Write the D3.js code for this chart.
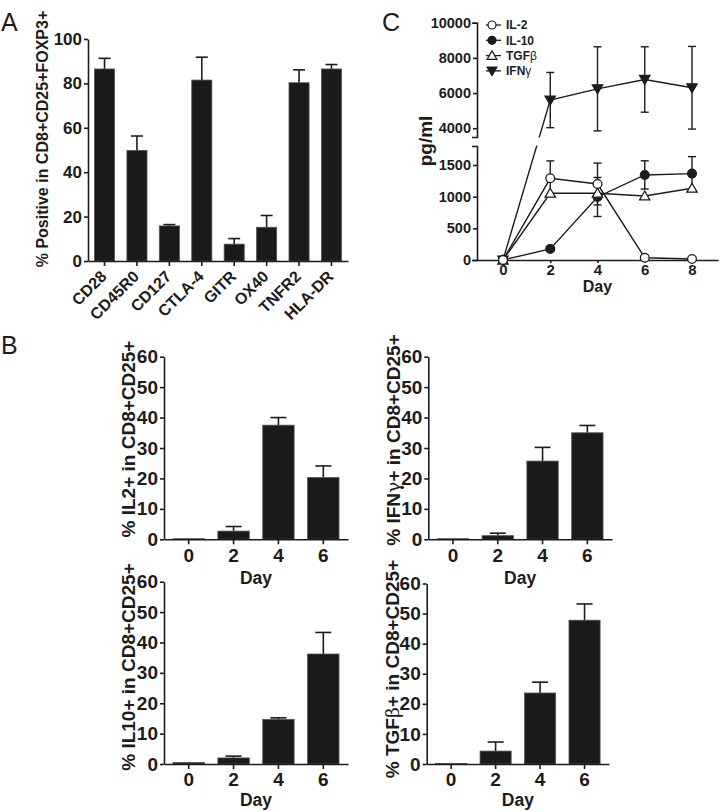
<!DOCTYPE html>
<html><head><meta charset="utf-8">
<script src="https://cdn.jsdelivr.net/npm/d3@7"></script>
<style>body{margin:0;background:#fff}svg{display:block}</style>
</head><body><svg id="fig" width="725" height="812"></svg>
<script>
// ---------- DATA ----------
const markersA = ["CD28","CD45R0","CD127","CTLA-4","GITR","OX40","TNFR2","HLA-DR"];
const meanA = [86.5, 49.8, 15.8, 81.5, 7.6, 15.2, 80.3, 86.5];
const errA  = [4.8, 6.5, 0.6, 10.3, 2.5, 5.3, 5.8, 2.0];
const ticksA = [0,20,40,60,80,100];

const daysB = ["0","2","4","6"];
const il2B  = [0.2, 2.7, 37.5, 20.3]; const il2BErr  = [0, 1.5, 2.5, 3.8];
const ifngB = [0.2, 1.2, 25.7, 35.0]; const ifngBErr = [0, 0.8, 4.5, 2.4];
const il10B = [0.5, 2.0, 14.7, 36.2]; const il10BErr = [0, 0.6, 0.5, 7.1];
const tgfbB = [0.2, 4.3, 23.6, 47.8]; const tgfbBErr = [0, 3.0, 3.6, 5.4];
const ticksB = [0,10,20,30,40,50,60];

const daysC = [0,2,4,6,8];
const il2C  = [0, 1290, 1200, 36, 16];   const il2CErr  = [0, 275, 330, 0, 0];
const il10C = [0, 175, 995, 1343, 1364]; const il10CErr = [0, 0, 308, 223, 268];
const tgfbC = [0, 1054, 1054, 1011, 1133]; const tgfbCErr = [0, 0, 0, 0, 0];
const ifngC = [0, 5600, 6240, 6770, 6300]; const ifngCErr = [0, 1570, 2390, 1860, 2350];
const ticksCUpper = [4000,6000,8000,10000];
const ticksCLower = [0,500,1000,1500];
const legendC = ["IL-2","IL-10","TGFβ","IFNγ"];

// ---------- SETUP ----------
const FONT = "'Liberation Sans', Arial, Helvetica, sans-serif";
const INK = "#1c1c1c";
const svg = d3.select("#fig").style("font-family", FONT);
svg.append("rect").attr("width",725).attr("height",812).attr("fill","#fff");

function styleAxis(g, fs) {
  g.select(".domain").attr("stroke", INK).attr("stroke-width", 1.6);
  g.selectAll(".tick line").attr("stroke", INK).attr("stroke-width", 1.6);
  g.selectAll(".tick text").attr("fill", INK).style("font-size", fs + "px")
    .style("font-weight", "bold").style("font-family", FONT);
}
function panelLetter(t, x, y) {
  svg.append("text").attr("x", x).attr("y", y).text(t)
    .style("font-size", "25px").attr("fill", INK);
}
function rotLabel(parts, cx, cy, fs) {
  const t = svg.append("text")
    .attr("transform", `translate(${cx},${cy}) rotate(-90)`)
    .attr("text-anchor", "middle").attr("dy", "0.35em")
    .style("font-size", fs + "px").style("font-weight", "bold").attr("fill", INK);
  parts.forEach(p => {
    const s = t.append("tspan").text(p.t);
    if (p.greek) s.style("font-weight", "normal").style("font-family", "'DejaVu Serif', serif");
  });
}

// ---------- PANEL A ----------
panelLetter("A", 1, 31);
const xA = d3.scaleBand().domain(markersA).range([88, 348]).paddingInner(0.38).paddingOuter(0.2);
const yA = d3.scaleLinear().domain([0, 100]).range([261, 39]);
const gA = svg.append("g");
markersA.forEach((m, i) => {
  const cx = xA(m) + xA.bandwidth() / 2;
  gA.append("line").attr("x1", cx).attr("x2", cx).attr("y1", yA(meanA[i])).attr("y2", yA(meanA[i] + errA[i]))
    .attr("stroke", INK).attr("stroke-width", 1.6);
  gA.append("line").attr("x1", cx - 6).attr("x2", cx + 6).attr("y1", yA(meanA[i] + errA[i])).attr("y2", yA(meanA[i] + errA[i]))
    .attr("stroke", INK).attr("stroke-width", 1.6);
});
gA.selectAll("rect.bar").data(markersA).join("rect").attr("class", "bar")
  .attr("x", d => xA(d)).attr("width", xA.bandwidth())
  .attr("y", (d, i) => yA(meanA[i])).attr("height", (d, i) => yA(0) - yA(meanA[i]))
  .attr("fill", "#1a1a1a").attr("stroke", "#555").attr("stroke-width", 0.8);
const axA_y = svg.append("g").attr("transform", "translate(88,0)")
  .call(d3.axisLeft(yA).tickValues(ticksA).tickSize(4).tickPadding(2).tickSizeOuter(0));
styleAxis(axA_y, 17);
const axA_x = svg.append("g").attr("transform", "translate(0,261)")
  .call(d3.axisBottom(xA).tickSize(5).tickSizeOuter(0));
styleAxis(axA_x, 16);
axA_x.selectAll(".tick text").attr("y", 0).attr("dy", 0)
  .attr("transform", "translate(3,16.5) rotate(-45)").attr("text-anchor", "end");
rotLabel([{t: "% Positive in CD8+CD25+FOXP3+"}], 42, 139, 16);

// ---------- PANEL C ----------
panelLetter("C", 382, 31);
const xC = d3.scaleLinear().domain([-1.1, 9.1]).range([477, 718]);
const yUp = d3.scaleLinear().domain([3500, 10000]).range([137, 22.7]);
const yLo = d3.scaleLinear().domain([0, 1800]).range([260, 146]);
const yC = v => v >= 3500 ? yUp(v) : yLo(v);

const defs = svg.append("defs");
const cp = defs.append("clipPath").attr("id", "brk");
cp.append("rect").attr("x", 0).attr("y", 0).attr("width", 725).attr("height", 137.5);
cp.append("rect").attr("x", 0).attr("y", 145.5).attr("width", 725).attr("height", 300);

const axC_x = svg.append("g").attr("transform", "translate(0,260)")
  .call(d3.axisBottom(xC).tickValues(daysC).tickSize(3).tickPadding(1).tickSizeOuter(0));
styleAxis(axC_x, 15);
const axC_up = svg.append("g").attr("transform", "translate(477,0)")
  .call(d3.axisLeft(yUp).tickValues(ticksCUpper).tickFormat(d3.format("d")).tickSize(4).tickPadding(2).tickSizeOuter(5));
styleAxis(axC_up, 14.5);
const axC_lo = svg.append("g").attr("transform", "translate(477,0)")
  .call(d3.axisLeft(yLo).tickValues(ticksCLower).tickFormat(d3.format("d")).tickSize(4).tickPadding(2).tickSizeOuter(5));
styleAxis(axC_lo, 14.5);

const seriesC = [
  {name: "IFNγ", v: ifngC, e: ifngCErr, sym: d3.symbolTriangle, fill: INK, rot: 180, size: 46},
  {name: "IL-10", v: il10C, e: il10CErr, sym: d3.symbolCircle, fill: INK, rot: 0, size: 60},
  {name: "TGFβ", v: tgfbC, e: tgfbCErr, sym: d3.symbolTriangle, fill: "#fff", rot: 0, size: 46},
  {name: "IL-2", v: il2C, e: il2CErr, sym: d3.symbolCircle, fill: "#fff", rot: 0, size: 60}
];
const gC = svg.append("g");
const lineC = d3.line().x(d => xC(d[0])).y(d => yC(d[1]));
seriesC.forEach(s => {
  gC.append("path").attr("d", lineC(daysC.map((d, i) => [d, s.v[i]])))
    .attr("fill", "none").attr("stroke", INK).attr("stroke-width", 1.4).attr("clip-path", "url(#brk)");
});
seriesC.forEach(s => {
  daysC.forEach((d, i) => {
    if (!s.e[i]) return;
    const cx = xC(d), y1 = yC(s.v[i] + s.e[i]), y2 = yC(s.v[i] - s.e[i]);
    gC.append("line").attr("x1", cx).attr("x2", cx).attr("y1", y1).attr("y2", y2).attr("stroke", INK).attr("stroke-width", 1.4);
    [y1, y2].forEach(yy => gC.append("line").attr("x1", cx - 4).attr("x2", cx + 4).attr("y1", yy).attr("y2", yy)
      .attr("stroke", INK).attr("stroke-width", 1.4));
  });
});
seriesC.forEach(s => {
  daysC.forEach((d, i) => {
    gC.append("path").attr("d", d3.symbol(s.sym, s.size)())
      .attr("transform", `translate(${xC(d)},${yC(s.v[i]) + (s.sym === d3.symbolTriangle ? (s.rot ? -1 : 1) : 0)}) rotate(${s.rot})`)
      .attr("fill", s.fill).attr("stroke", INK).attr("stroke-width", 1.3);
  });
});
// legend
const legSym = {"IL-2": seriesC[3], "IL-10": seriesC[1], "TGFβ": seriesC[2], "IFNγ": seriesC[0]};
legendC.forEach((n, i) => {
  const s = legSym[n], ly = 25 + i * 15.3;
  svg.append("line").attr("x1", 486).attr("x2", 501).attr("y1", ly).attr("y2", ly).attr("stroke", INK).attr("stroke-width", 1.3);
  svg.append("path").attr("d", d3.symbol(s.sym, s.sym === d3.symbolCircle ? 50 : 42)())
    .attr("transform", `translate(492,${ly + (s.sym === d3.symbolTriangle ? (s.rot ? -1 : 1) : 0)}) rotate(${s.rot})`)
    .attr("fill", s.fill).attr("stroke", INK).attr("stroke-width", 1.2);
  const t = svg.append("text").attr("x", 506).attr("y", ly).attr("dy", "0.36em")
    .style("font-size", "12px").style("font-weight", "bold").attr("fill", INK);
  const m = n.match(/^(.*?)([βγ])?$/);
  t.append("tspan").text(m[1]);
  if (m[2]) t.append("tspan").text(m[2]).style("font-weight", "normal");
});
svg.append("text").attr("x", xC(4)).attr("y", 292).attr("text-anchor", "middle")
  .style("font-size", "16px").style("font-weight", "bold").attr("fill", INK).text("Day");
rotLabel([{t: "pg/ml"}], 425, 141, 19);

// ---------- PANEL B ----------
panelLetter("B", 1, 354);
function barPanel(cfg) {
  const x = d3.scaleBand().domain(daysB).range(cfg.xr).paddingInner(0.3).paddingOuter(0.2);
  const y = d3.scaleLinear().domain([0, 60]).range(cfg.yr);
  const g = svg.append("g");
  daysB.forEach((d, i) => {
    if (!cfg.err[i]) return;
    const cx = x(d) + x.bandwidth() / 2, top = y(cfg.v[i] + cfg.err[i]);
    g.append("line").attr("x1", cx).attr("x2", cx).attr("y1", y(cfg.v[i])).attr("y2", top).attr("stroke", INK).attr("stroke-width", 1.6);
    g.append("line").attr("x1", cx - 8).attr("x2", cx + 8).attr("y1", top).attr("y2", top).attr("stroke", INK).attr("stroke-width", 1.6);
  });
  g.selectAll("rect").data(daysB).join("rect")
    .attr("x", d => x(d)).attr("width", x.bandwidth())
    .attr("y", (d, i) => y(cfg.v[i])).attr("height", (d, i) => y(0) - y(cfg.v[i]))
    .attr("fill", "#1a1a1a").attr("stroke", "#555").attr("stroke-width", 0.8);
  const ay = svg.append("g").attr("transform", `translate(${cfg.xr[0]},0)`)
    .call(d3.axisLeft(y).tickValues(ticksB).tickSize(4).tickPadding(2).tickSizeOuter(0));
  styleAxis(ay, 19);
  const ax = svg.append("g").attr("transform", `translate(0,${cfg.yr[0]})`)
    .call(d3.axisBottom(x).tickSize(5).tickPadding(4).tickSizeOuter(0));
  styleAxis(ax, 19);
  svg.append("text").attr("x", (cfg.xr[0] + cfg.xr[1]) / 2).attr("y", cfg.dayY).attr("text-anchor", "middle")
    .style("font-size", "17.5px").style("font-weight", "bold").attr("fill", INK).text("Day");
  rotLabel(cfg.label, cfg.lx, cfg.ly, 19);
}
barPanel({xr: [164, 348], yr: [539.3, 356.7], v: il2B, err: il2BErr, dayY: 584, lx: 128, ly: 439,
  label: [{t: "% IL2+ in CD8+CD25+"}]});
barPanel({xr: [428.3, 612], yr: [539.3, 356.7], v: ifngB, err: ifngBErr, dayY: 584, lx: 393, ly: 440,
  label: [{t: "% IFN"}, {t: "γ", greek: true}, {t: "+ in CD8+CD25+"}]});
barPanel({xr: [164, 348], yr: [764, 581.7], v: il10B, err: il10BErr, dayY: 806, lx: 128, ly: 667,
  label: [{t: "% IL10+ in CD8+CD25+"}]});
barPanel({xr: [426.7, 609], yr: [764, 583.5], v: tgfbB, err: tgfbBErr, dayY: 806, lx: 392, ly: 669,
  label: [{t: "% TGF"}, {t: "β", greek: true}, {t: "+ in CD8+CD25+"}]});
</script></body></html>
